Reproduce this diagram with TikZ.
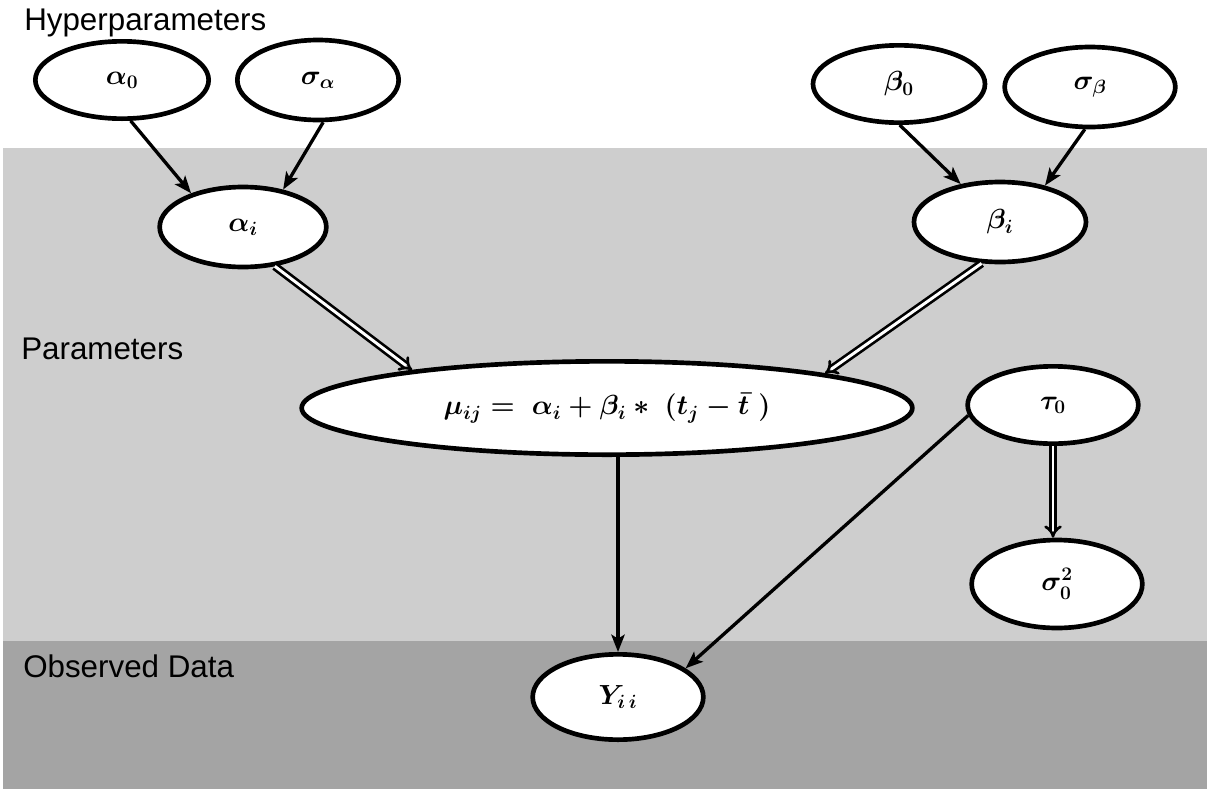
\documentclass[tikz,border=0pt]{standalone}
\usepackage{fontspec}
\setmainfont{Liberation Sans}
\usetikzlibrary{shapes.geometric,arrows.meta}
\definecolor{lightband}{RGB}{206,206,206}
\definecolor{darkband}{RGB}{164,164,164}
\begin{document}
\begin{tikzpicture}[x=0.75pt,y=-0.75pt,
  var/.style={ellipse,draw=black,line width=3.5pt,fill=white,inner sep=0pt,
    font=\fontsize{22}{26}\selectfont\boldmath},
  arr/.style={line width=2.5pt,-{Stealth[length=13pt,width=10pt,inset=3pt]}},
  dbl/.style={line width=2pt,double=white,double distance=2.2pt,-{Implies}},
  band/.style={font=\fontsize{23.5}{28}\selectfont,anchor=base west,inner sep=0pt}]
\useasboundingbox (0,0) rectangle (1207,793);
\fill[lightband] (3,148) rectangle (1207,641);
\fill[darkband] (3,641) rectangle (1207,789);
\node[band] (hyp) at (24,30) {Hyperparameters};
\node[band] (par) at (21,359) {Parameters};
\node[band] (obs) at (23,677) {Observed Data};
\node[var,minimum width=130pt,minimum height=58pt] (a0) at (122,80) {$\alpha_0$};
\node[var,minimum width=121pt,minimum height=60pt] (sa) at (318,80) {$\sigma_\alpha$};
\node[var,minimum width=129pt,minimum height=58pt] (b0) at (899,84) {$\beta_0$};
\node[var,minimum width=128pt,minimum height=60pt] (sb) at (1090,87) {$\sigma_\beta$};
\node[var,minimum width=125pt,minimum height=60pt] (ai) at (243,227) {$\alpha_i$};
\node[var,minimum width=129pt,minimum height=60pt] (bi) at (1000,222) {$\beta_i$};
\node[var,minimum width=458pt,minimum height=70pt] (mu) at (607,408) {$\mu_{ij} =\ \alpha_i + \beta_i * \ (t_j - \bar{t}\;)$};
\node[var,minimum width=128pt,minimum height=58pt] (tau) at (1053,405) {$\tau_0$};
\node[var,minimum width=128pt,minimum height=66pt] (s02) at (1057,584) {$\sigma_0^2$};
\node[var,minimum width=128pt,minimum height=64pt] (y) at (618,697) {$Y_{i\,i}$};
\draw[arr] (a0.-78) -- (ai.147);
\draw[arr] (sa.-83) -- (ai.43);
\draw[arr] (b0.-89) -- (bi.136);
\draw[arr] (sb.-97) -- (bi.39);
\draw[dbl] (ai.-51) -- (mu.169);
\draw[dbl] (bi.246) -- (mu.9);
\draw[arr] (y.north |- mu.south) -- (y.north);
\draw[arr] (tau.187) -- (y.23);
\draw[dbl] (tau.south) -- (tau.south |- s02.north);
\end{tikzpicture}
\end{document}
